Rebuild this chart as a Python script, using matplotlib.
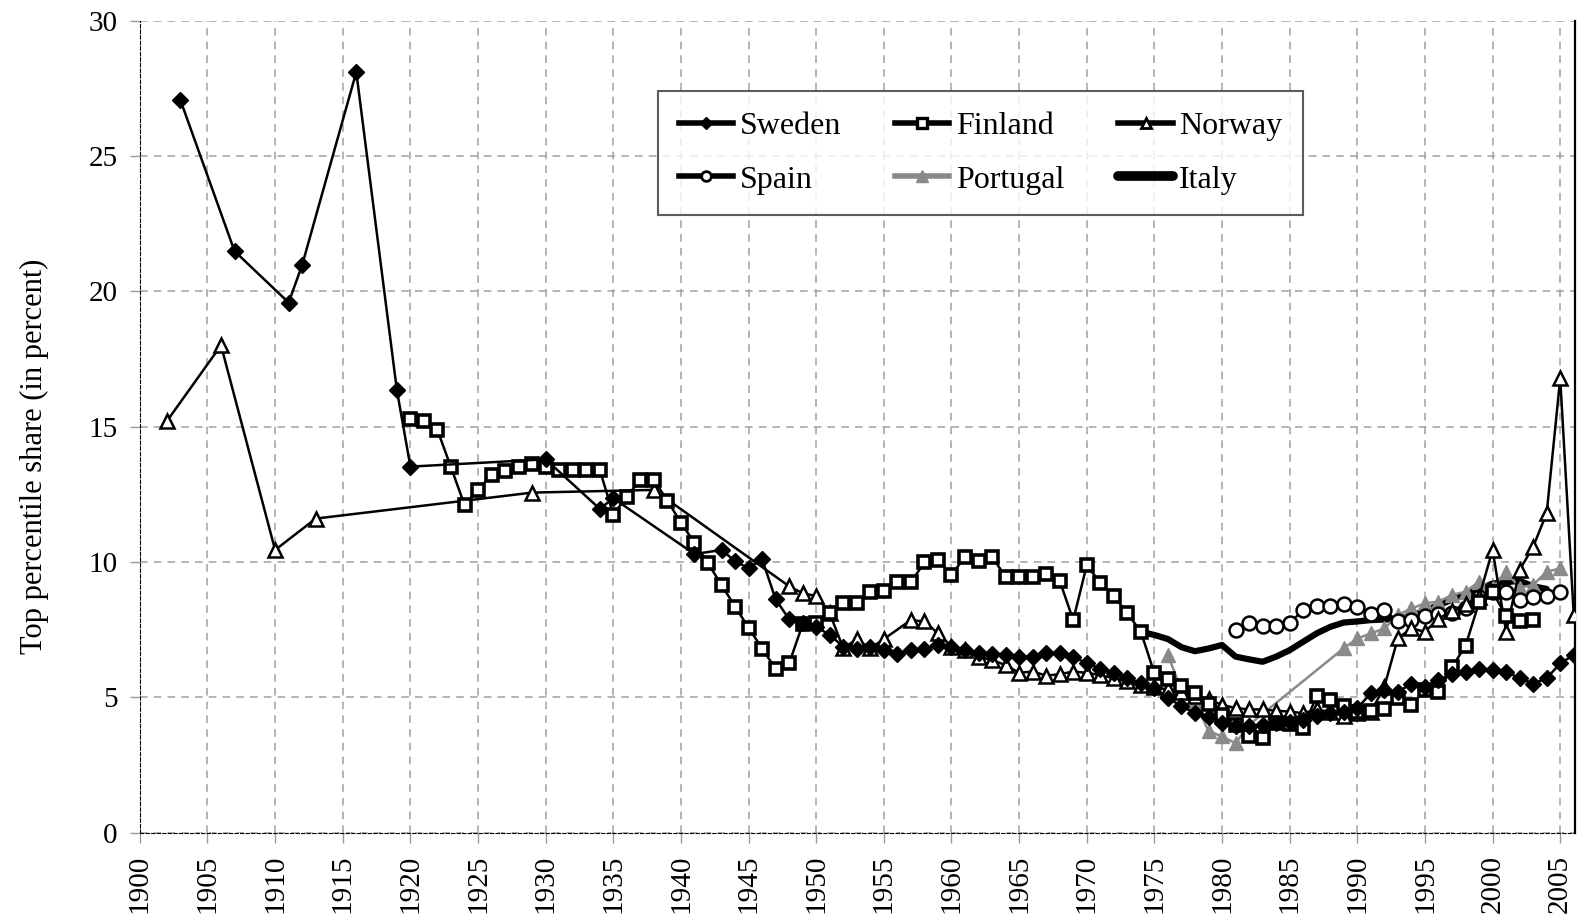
import matplotlib
matplotlib.use("Agg")
import matplotlib.pyplot as plt
from matplotlib.lines import Line2D

### DATA ###
sweden_years = [1903, 1907, 1911, 1912, 1916, 1919, 1920, 1930, 1934, 1935, 1941, 1943, 1944, 1945,
                1946, 1947, 1948, 1949, 1950, 1951, 1952, 1953, 1954, 1955, 1956, 1957, 1958, 1959,
                1960, 1961, 1962, 1963, 1964, 1965, 1966, 1967, 1968, 1969, 1970, 1971, 1972, 1973,
                1974, 1975, 1976, 1977, 1978, 1979, 1980, 1981, 1982, 1983, 1984, 1985, 1986, 1987,
                1988, 1989, 1990, 1991, 1992, 1993, 1994, 1995, 1996, 1997, 1998, 1999, 2000, 2001,
                2002, 2003, 2004, 2005, 2006]
sweden = [27.06, 21.48, 19.58, 20.97, 28.1, 16.35, 13.52, 13.79, 11.96, 12.35, 10.29, 10.44, 10.03, 9.76,
          10.1, 8.62, 7.88, 7.73, 7.6, 7.3, 6.87, 6.8, 6.87, 6.74, 6.6, 6.74, 6.8, 6.93,
          6.85, 6.74, 6.65, 6.6, 6.55, 6.5, 6.5, 6.62, 6.64, 6.5, 6.25, 6.06, 5.9, 5.7,
          5.52, 5.33, 4.96, 4.68, 4.4, 4.28, 4.05, 3.95, 3.95, 3.97, 4.05, 4.1, 4.15, 4.3,
          4.4, 4.47, 4.6, 5.14, 5.26, 5.2, 5.5, 5.38, 5.63, 5.87, 5.94, 6.03, 6.0, 5.94,
          5.7, 5.5, 5.7, 6.25, 6.56]

finland_years = list(range(1920, 2004))
finland = [15.28, 15.2, 14.87, 13.5, 12.1, 12.67, 13.2, 13.35, 13.5, 13.6,
           13.5, 13.4, 13.4, 13.4, 13.4, 11.75, 12.41, 13.03, 13.03, 12.26,
           11.45, 10.71, 9.95, 9.15, 8.35, 7.57, 6.8, 6.05, 6.25, 7.7,
           7.75, 8.1, 8.47, 8.47, 8.87, 8.94, 9.25, 9.25, 9.98, 10.08,
           9.52, 10.19, 10.03, 10.19, 9.45, 9.45, 9.45, 9.55, 9.3, 7.85,
           9.88, 9.23, 8.74, 8.1, 7.42, 5.88, 5.67, 5.4, 5.14, 4.75,
           4.34, 3.97, 3.55, 3.48, 4.06, 4.02, 3.85, 5.05, 4.91, 4.67,
           4.47, 4.5, 4.58, 4.98, 4.71, 5.26, 5.2, 6.11, 6.9, 8.5,
           8.9, 7.99, 7.82, 7.87]

norway_years = [1902, 1906, 1910, 1913, 1929, 1938, 1948, 1949, 1950, 1951, 1952, 1953, 1954, 1955,
                1957, 1958, 1959, 1960, 1961, 1962, 1963, 1964, 1965, 1966, 1967, 1968, 1969, 1970,
                1971, 1972, 1973, 1974, 1975, 1976, 1977, 1978, 1979, 1980, 1981, 1982, 1983, 1984,
                1985, 1986, 1987, 1988, 1989, 1990, 1991, 1992, 1993, 1994, 1995, 1996, 1997, 1998,
                1999, 2000, 2001, 2002, 2003, 2004, 2005, 2006]
norway = [15.2, 18.0, 10.44, 11.6, 12.56, 12.66, 9.1, 8.84, 8.74, 8.1, 6.81, 7.14, 6.81, 7.15,
          7.85, 7.8, 7.36, 6.87, 6.74, 6.5, 6.37, 6.19, 5.9, 5.95, 5.8, 5.85, 5.95, 5.9,
          5.82, 5.7, 5.6, 5.45, 5.36, 5.29, 5.2, 5.05, 4.92, 4.72, 4.6, 4.55, 4.55, 4.5,
          4.47, 4.41, 4.55, 4.45, 4.3, 4.4, 4.45, 5.39, 7.18, 7.54, 7.42, 7.9, 8.2, 8.45,
          8.7, 10.44, 7.42, 9.7, 10.56, 11.8, 16.78, 8.04]

spain_years = list(range(1981, 2006))
spain = [7.5, 7.75, 7.63, 7.63, 7.75, 8.22, 8.37, 8.37, 8.45, 8.32, 8.08, 8.22, 7.8, 7.85,
         8.0, 8.06, 8.12, 8.3, 8.7, 8.9, 8.9, 8.6, 8.7, 8.75, 8.9]

portugal_years = [1976, 1977, 1978, 1979, 1980, 1981, 1982, 1989, 1990, 1991, 1992, 1993, 1994,
                  1995, 1996, 1997, 1998, 1999, 2000, 2001, 2002, 2003, 2004, 2005]
portugal = [6.56, 5.26, 4.84, 3.75, 3.55, 3.3, 3.98, 6.81, 7.17, 7.36, 7.54, 8.04, 8.28,
            8.47, 8.53, 8.78, 8.9, 9.27, 9.05, 9.64, 9.05, 9.15, 9.64, 9.76]

italy_years = list(range(1974, 2005))
italy = [7.42, 7.3, 7.15, 6.85, 6.7, 6.8, 6.93, 6.5, 6.4, 6.31, 6.5, 6.74, 7.05, 7.36, 7.6,
         7.76, 7.8, 7.85, 7.87, 7.9, 8.0, 8.2, 8.4, 8.6, 8.8, 9.0, 9.2, 9.25, 9.3, 9.1, 9.0]

x_ticks = list(range(1900, 2006, 5))
y_ticks = [0, 5, 10, 15, 20, 25, 30]

### PLOT ###
plt.rcParams['font.family'] = ['Liberation Serif', 'DejaVu Serif']
fig = plt.figure(figsize=(15.91, 9.22), dpi=100)
ax = fig.add_axes([0.0879, 0.097, 0.9021, 0.8807])

grey = '#8a8a8a'
ax.plot(italy_years, italy, color='black', lw=4.5, solid_capstyle='round', zorder=3)
ax.plot(portugal_years, portugal, color=grey, lw=1.8, marker='^', ms=10, mfc=grey, mec=grey, zorder=4)
ax.plot(spain_years, spain, color='black', lw=1.6, marker='o', ms=10, mfc='white', mec='black', mew=1.8, zorder=5)
ax.plot(norway_years, norway, color='black', lw=1.8, marker='^', ms=10, mfc='white', mec='black', mew=1.8, zorder=6)
ax.plot(finland_years, finland, color='black', lw=1.8, marker='s', ms=9, mfc='white', mec='black', mew=2.6, zorder=7)
ax.plot(sweden_years, sweden, color='black', lw=1.8, marker='D', ms=8, mfc='black', mec='black', zorder=8)

ax.set_xlim(1900, 2006.1)
ax.set_ylim(0, 30)
ax.set_xticks(x_ticks)
ax.set_yticks(y_ticks)
ax.set_xticklabels([str(t) for t in x_ticks], rotation=90, fontsize=21)
ax.tick_params(axis='y', labelsize=21)
ax.tick_params(direction='out', length=7, color='#999999', width=1, pad=9)
ax.set_ylabel('Top percentile share (in percent)', fontsize=22)
ax.yaxis.set_label_coords(-0.063, 0.463)

ax.grid(True, color='#a0a0a0', linestyle=(0, (5, 4)), lw=1.1)
ax.set_axisbelow(True)
ax.spines['top'].set_visible(False)
ax.spines['left'].set_linestyle((0, (3, 2)))
ax.spines['bottom'].set_linestyle((0, (3, 2)))
ax.spines['right'].set_linewidth(1.6)

# legend proxies: thick line with a small marker in the middle
handles = [
    Line2D([], [], color='black', lw=4, marker='D', ms=6, mfc='black', mec='black'),
    Line2D([], [], color='black', lw=4, marker='o', ms=7, mfc='white', mec='black', mew=2),
    Line2D([], [], color='black', lw=4, marker='s', ms=7, mfc='white', mec='black', mew=2.4),
    Line2D([], [], color=grey, lw=4, marker='^', ms=9, mfc=grey, mec=grey),
    Line2D([], [], color='black', lw=4, marker='^', ms=7, mfc='white', mec='black', mew=2),
    Line2D([], [], color='black', lw=7, solid_capstyle='round'),
]
labels = ['Sweden', 'Spain', 'Finland', 'Portugal', 'Norway', 'Italy']
leg = ax.legend(handles, labels, ncol=3, loc='upper left', bbox_to_anchor=(0.361, 0.913),
                borderaxespad=0, fontsize=23, frameon=True, fancybox=False,
                handlelength=1.7, handletextpad=0.2, columnspacing=1.7, labelspacing=0.75,
                borderpad=0.65, numpoints=1)
leg.get_frame().set_edgecolor('#333333')
leg.get_frame().set_linewidth(1.5)
leg.set_zorder(20)

plt.savefig('out.png', dpi=100)
